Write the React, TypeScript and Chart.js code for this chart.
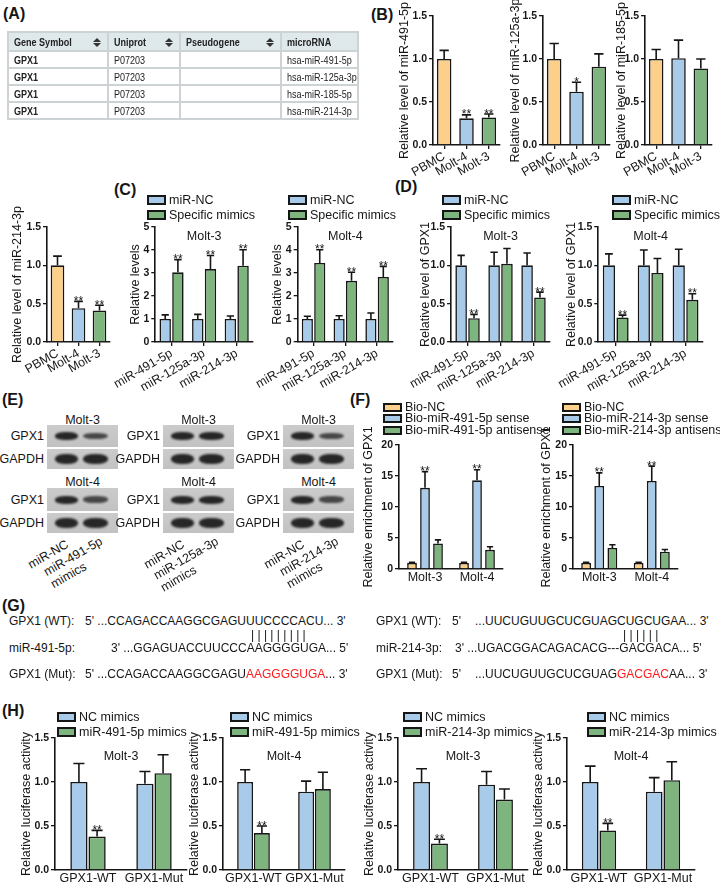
import React, { useEffect, useRef } from "react";
import { Chart, registerables } from "chart.js";
Chart.register(...registerables);

const FONT = "'Liberation Sans', Arial, sans-serif";
const ORANGE = "#FCD08B";
const BLUE = "#A9CBEA";
const GREEN = "#7EB47D";
const INK = "#161616";
Chart.defaults.color = INK;
Chart.defaults.font.family = FONT;

// ---------------- data ----------------
const tableHeaders = ["Gene Symbol", "Uniprot", "Pseudogene", "microRNA"];
const tableGene = ["GPX1", "GPX1", "GPX1", "GPX1"];
const tableUniprot = ["P07203", "P07203", "P07203", "P07203"];
const tableMirna = ["hsa-miR-491-5p", "hsa-miR-125a-3p", "hsa-miR-185-5p", "hsa-miR-214-3p"];

const bCats = ["PBMC", "Molt-4", "Molt-3"];
const b491Mean = [1.0, 0.31, 0.32];
const b491Sd = [0.1, 0.04, 0.04];
const b491Sig = ["", "**", "**"];
const b125aMean = [1.0, 0.62, 0.91];
const b125aSd = [0.18, 0.11, 0.15];
const b125aSig = ["", "*", ""];
const b185Mean = [1.0, 1.01, 0.89];
const b185Sd = [0.11, 0.21, 0.11];
const b185Sig = ["", "", ""];
const c214Mean = [1.0, 0.44, 0.41];
const c214Sd = [0.12, 0.09, 0.07];
const c214Sig = ["", "**", "**"];

const mirCats = ["miR-491-5p", "miR-125a-3p", "miR-214-3p"];
const cM3Nc = [1.0, 1.0, 1.0];
const cM3NcSd = [0.18, 0.2, 0.13];
const cM3Mim = [3.03, 3.17, 3.32];
const cM3MimSd = [0.55, 0.59, 0.69];
const cM4Nc = [1.0, 1.0, 1.0];
const cM4NcSd = [0.12, 0.14, 0.26];
const cM4Mim = [3.44, 2.66, 2.83];
const cM4MimSd = [0.57, 0.37, 0.46];
const cSig = ["**", "**", "**"];

const dM3Nc = [1.0, 1.0, 1.0];
const dM3NcSd = [0.13, 0.17, 0.16];
const dM3Mim = [0.31, 1.02, 0.58];
const dM3MimSd = [0.05, 0.2, 0.07];
const dM4Nc = [1.0, 1.0, 1.0];
const dM4NcSd = [0.15, 0.2, 0.21];
const dM4Mim = [0.32, 0.9, 0.55];
const dM4MimSd = [0.03, 0.19, 0.08];
const dSig = ["**", "", "**"];

const fCats = ["Molt-3", "Molt-4"];
const f491Nc = [1.0, 1.0];
const f491NcSd = [0.1, 0.1];
const f491Sense = [13.1, 14.3];
const f491SenseSd = [2.6, 1.7];
const f491Anti = [4.1, 3.1];
const f491AntiSd = [0.6, 0.5];
const f214Nc = [1.0, 1.0];
const f214NcSd = [0.1, 0.1];
const f214Sense = [13.4, 14.2];
const f214SenseSd = [2.1, 2.4];
const f214Anti = [3.4, 2.8];
const f214AntiSd = [0.5, 0.35];
const fSig = ["**", "**"];

const hCats = ["GPX1-WT", "GPX1-Mut"];
const h491M3Nc = [1.0, 0.98];
const h491M3NcSd = [0.21, 0.14];
const h491M3Mim = [0.38, 1.1];
const h491M3MimSd = [0.07, 0.21];
const h491M4Nc = [1.0, 0.89];
const h491M4NcSd = [0.14, 0.12];
const h491M4Mim = [0.42, 0.92];
const h491M4MimSd = [0.08, 0.19];
const h214M3Nc = [1.0, 0.97];
const h214M3NcSd = [0.15, 0.15];
const h214M3Mim = [0.3, 0.8];
const h214M3MimSd = [0.05, 0.12];
const h214M4Nc = [1.0, 0.89];
const h214M4NcSd = [0.18, 0.16];
const h214M4Mim = [0.45, 1.02];
const h214M4MimSd = [0.08, 0.21];
const hSig = ["**", ""];

const seq491Wt = "5' ...CCAGACCAAGGCGAGUUUCCCCACU... 3'";
const seq491Mir = "3' ...GGAGUACCUUCCCAAGGGGUGA... 5'";
const seq491MutA = "5' ...CCAGACCAAGGCGAGU";
const seq491MutB = "AAGGGGUGA";
const seq491MutC = "... 3'";
const seq214Wt = "...UUCUGUUGCUCGUAGCUGCUGAA... 3'";
const seq214Mir = "3' ...UGACGGACAGACACG---GACGACA... 5'";
const seq214MutA = "...UUCUGUUGCUCGUAG";
const seq214MutB = "GACGAC";
const seq214MutC = "AA... 3'";

const blotMirs = [["miR-491-5p", "mimics"], ["miR-125a-3p", "mimics"], ["miR-214-3p", "mimics"]];
const blotGpxStrength = [[1, 0.55], [1, 1], [1, 0.55]];

// ---------------- chart component ----------------
type DS = { label: string; data: number[]; sd: number[]; sig: string[]; color: string | string[] };
type Spec = {
  x0: number; x1: number; yTop: number; yBot: number; titleOff: number;
  labels: string[]; datasets: DS[]; yMax: number; yStep: number; dec: number;
  yTitle: string; title?: string; titleDy?: number; rot: number; xTicks: boolean;
  catPct: number; barPct: number; xH: number;
};

function BarChart({ spec }: { spec: Spec }) {
  const ref = useRef<HTMLCanvasElement>(null);
  const yW = spec.titleOff + 10;
  const left = spec.x0 - yW;
  const padT = 40;
  const top = spec.yTop - padT;
  const padR = 6;
  const w = Math.round(spec.x1 + padR - left);
  const h = Math.round(spec.yBot + spec.xH - top);
  useEffect(() => {
    const errPlugin = {
      id: "errbars",
      afterDatasetsDraw(chart: any) {
        const ctx = chart.ctx;
        const ys = chart.scales.y;
        const ca = chart.chartArea;
        spec.datasets.forEach((ds, i) => {
          const meta = chart.getDatasetMeta(i);
          meta.data.forEach((el: any, j: number) => {
            const v = ds.data[j];
            const e = ds.sd[j];
            const x = el.x;
            const bw = el.width;
            const yv = ys.getPixelForValue(v);
            const ye = ys.getPixelForValue(v + e);
            ctx.save();
            ctx.strokeStyle = INK;
            ctx.lineWidth = 1.6;
            ctx.beginPath();
            ctx.moveTo(x, yv);
            ctx.lineTo(x, ye);
            ctx.moveTo(x - bw * 0.32, ye);
            ctx.lineTo(x + bw * 0.32, ye);
            ctx.stroke();
            if (ds.sig[j]) {
              ctx.fillStyle = INK;
              ctx.font = `12px ${FONT}`;
              ctx.textAlign = "center";
              ctx.textBaseline = "alphabetic";
              ctx.fillText(ds.sig[j], x, ye + 3.5);
            }
            ctx.restore();
          });
        });
        ctx.save();
        ctx.fillStyle = INK;
        ctx.font = `12.5px ${FONT}`;
        ctx.textAlign = "center";
        ctx.textBaseline = "middle";
        if (spec.title) {
          ctx.fillText(spec.title, (ca.left + ca.right) / 2, ca.top + (spec.titleDy || 10));
        }
        ctx.translate(ca.left - spec.titleOff, (ca.top + ca.bottom) / 2);
        ctx.rotate(-Math.PI / 2);
        ctx.fillText(spec.yTitle, 0, 0);
        ctx.restore();
      },
    };
    const chart = new Chart(ref.current as HTMLCanvasElement, {
      type: "bar",
      data: {
        labels: spec.labels,
        datasets: spec.datasets.map((d) => ({
          label: d.label,
          data: d.data,
          backgroundColor: d.color as any,
          borderColor: INK,
          borderWidth: 1.6,
          barPercentage: spec.barPct,
          categoryPercentage: spec.catPct,
        })),
      },
      options: {
        responsive: false,
        maintainAspectRatio: false,
        animation: false,
        events: [],
        layout: { padding: { top: padT, right: padR, left: 0, bottom: 0 }, autoPadding: false } as any,
        plugins: { legend: { display: false }, tooltip: { enabled: false } },
        scales: {
          x: {
            type: "category",
            offset: true,
            z: 1,
            grid: { display: true, drawOnChartArea: false, drawTicks: spec.xTicks, tickLength: 4, color: INK, lineWidth: 1.3, offset: false },
            border: { display: true, color: INK, width: 1.6 },
            ticks: { color: INK, font: { family: FONT, size: 12.5 }, maxRotation: spec.rot, minRotation: spec.rot, autoSkip: false, padding: spec.rot ? 0 : 1 },
            afterFit: (s: any) => { s.height = spec.xH; },
          },
          y: {
            min: 0,
            max: spec.yMax,
            grid: { display: true, drawOnChartArea: false, drawTicks: true, tickLength: 4, color: INK, lineWidth: 1.3 },
            border: { display: true, color: INK, width: 1.6 },
            ticks: { stepSize: spec.yStep, color: INK, font: { family: FONT, size: 10.5, weight: "bold" }, padding: 2, callback: (v: any) => Number(v).toFixed(spec.dec) },
            title: { display: false },
            afterFit: (s: any) => { s.width = yW; },
          },
        },
      } as any,
      plugins: [errPlugin],
    });
    return () => chart.destroy();
  }, []);
  return <canvas ref={ref} width={w} height={h} style={{ position: "absolute", left, top, width: w, height: h }} />;
}

// ---------------- helpers ----------------
function T({ x, y, children, size = 12.5, bold = false, align = "left", color }: any) {
  const tx = align === "center" ? "-50%" : align === "right" ? "-100%" : "0";
  return (
    <div style={{ position: "absolute", left: x, top: y, transform: `translate(${tx}, -50%)`, fontSize: size, fontWeight: bold ? "bold" : "normal", whiteSpace: "nowrap", lineHeight: 1.15, color: color || INK }}>
      {children}
    </div>
  );
}

function Legend({ x, y, step, items, boxH = 6 }: any) {
  return (
    <>
      {items.map((it: any, i: number) => (
        <div key={i} style={{ position: "absolute", left: x, top: y + i * step - 7, height: 14, display: "flex", alignItems: "center", whiteSpace: "nowrap", fontSize: 12.5, lineHeight: 1 }}>
          <span style={{ display: "inline-block", width: 15, height: boxH, border: `2px solid ${INK}`, background: it.color, marginRight: 3 }} />
          {it.label}
        </div>
      ))}
    </>
  );
}

function RotLabel({ ax, ay, lines }: any) {
  return (
    <div style={{ position: "absolute", right: 720 - ax, top: ay, transform: "rotate(-30deg)", transformOrigin: "right top", fontSize: 12.5, lineHeight: 1.1, whiteSpace: "nowrap", textAlign: "left" }}>
      {lines.map((l: string, i: number) => <div key={i}>{l}</div>)}
    </div>
  );
}

function SortIcon() {
  return (
    <span style={{ position: "absolute", right: 6, top: 5, width: 8, height: 10 }}>
      <span style={{ position: "absolute", left: 0, top: 0, width: 0, height: 0, borderLeft: "4px solid transparent", borderRight: "4px solid transparent", borderBottom: "4px solid #333" }} />
      <span style={{ position: "absolute", left: 0, top: 5, width: 0, height: 0, borderLeft: "4px solid transparent", borderRight: "4px solid transparent", borderTop: "4px solid #333" }} />
    </span>
  );
}

function Sq({ children }: any) {
  return <span style={{ display: "inline-block", transform: "scaleX(0.86)", transformOrigin: "left center" }}>{children}</span>;
}

function Blot({ x, y, h, strengths, thick }: any) {
  const bands = [{ l: 8, w: 23 }, { l: 36, w: 25 }];
  return (
    <div style={{ position: "absolute", left: x, top: y, width: 71, height: h, background: "linear-gradient(#cbcbcb, #c2c2c2)" }}>
      {bands.map((b, i) => {
        const s = strengths[i];
        const bh = thick * (0.6 + 0.4 * s);
        return (
          <div key={i} style={{ position: "absolute", left: b.l, width: b.w, top: h / 2 - bh / 2, height: bh, background: "#262626", borderRadius: "45%", opacity: 0.55 + 0.45 * s, filter: "blur(0.9px)" }} />
        );
      })}
    </div>
  );
}

// ---------------- chart specs ----------------
const bSpec = (x0: number, x1: number, mean: number[], sd: number[], sig: string[], title: string, off: number): Spec => ({
  x0, x1, yTop: 16, yBot: 145, titleOff: off, labels: bCats,
  datasets: [{ label: "level", data: mean, sd, sig, color: [ORANGE, BLUE, GREEN] }],
  yMax: 1.5, yStep: 0.5, dec: 1, yTitle: title, rot: 30, xTicks: true, catPct: 0.65, barPct: 1, xH: 42,
});

const pairSpec = (x0: number, x1: number, yTop: number, yBot: number, labels: string[], a: number[], aSd: number[], b: number[], bSd: number[], sig: string[], yMax: number, yStep: number, dec: number, yTitle: string, title: string, off: number): Spec => ({
  x0, x1, yTop, yBot, titleOff: off, labels,
  datasets: [
    { label: "NC", data: a, sd: aSd, sig: labels.map(() => ""), color: BLUE },
    { label: "mimics", data: b, sd: bSd, sig, color: GREEN },
  ],
  yMax, yStep, dec, yTitle, title, titleDy: 10, rot: 30, xTicks: true, catPct: 0.78, barPct: 0.9, xH: 52,
});

const fSpec = (x0: number, x1: number, nc: number[], ncSd: number[], s: number[], sSd: number[], an: number[], anSd: number[], off: number): Spec => ({
  x0, x1, yTop: 445, yBot: 569, titleOff: off, labels: fCats,
  datasets: [
    { label: "Bio-NC", data: nc, sd: ncSd, sig: ["", ""], color: ORANGE },
    { label: "sense", data: s, sd: sSd, sig: fSig, color: BLUE },
    { label: "antisense", data: an, sd: anSd, sig: ["", ""], color: GREEN },
  ],
  yMax: 20, yStep: 5, dec: 0, yTitle: "Relative enrichment of GPX1", rot: 0, xTicks: false, catPct: 0.75, barPct: 0.75, xH: 18,
});

const hSpec = (x0: number, x1: number, nc: number[], ncSd: number[], m: number[], mSd: number[], title: string): Spec => ({
  x0, x1, yTop: 738, yBot: 870, titleOff: 28, labels: hCats,
  datasets: [
    { label: "NC", data: nc, sd: ncSd, sig: ["", ""], color: BLUE },
    { label: "mim", data: m, sd: mSd, sig: hSig, color: GREEN },
  ],
  yMax: 1.5, yStep: 0.5, dec: 1, yTitle: "Relative luciferase activity", title, titleDy: 19, rot: 0, xTicks: false, catPct: 0.55, barPct: 0.95, xH: 16,
});

const specs: Spec[] = [
  bSpec(433, 500, b491Mean, b491Sd, b491Sig, "Relative level of miR-491-5p", 28),
  bSpec(543, 610, b125aMean, b125aSd, b125aSig, "Relative level of miR-125a-3p", 27),
  bSpec(645, 712, b185Mean, b185Sd, b185Sig, "Relative level of miR-185-5p", 23),
  { ...bSpec(47, 110, c214Mean, c214Sd, c214Sig, "Relative level of miR-214-3p", 29), yTop: 227, yBot: 342 },
  pairSpec(140, 253, 227, 342, mirCats, cM3Nc, cM3NcSd, cM3Mim, cM3MimSd, cSig, 5, 1, 0, "Relative levels", "Molt-3", 20),
  pairSpec(282, 393, 227, 342, mirCats, cM4Nc, cM4NcSd, cM4Mim, cM4MimSd, cSig, 5, 1, 0, "Relative levels", "Molt-4", 20),
  pairSpec(441, 550, 227, 342, mirCats, dM3Nc, dM3NcSd, dM3Mim, dM3MimSd, dSig, 1.5, 0.5, 1, "Relative level of GPX1", "Molt-3", 26),
  pairSpec(590, 703, 227, 342, mirCats, dM4Nc, dM4NcSd, dM4Mim, dM4MimSd, dSig, 1.5, 0.5, 1, "Relative level of GPX1", "Molt-4", 27),
  fSpec(399, 503, f491Nc, f491NcSd, f491Sense, f491SenseSd, f491Anti, f491AntiSd, 30),
  fSpec(573, 678, f214Nc, f214NcSd, f214Sense, f214SenseSd, f214Anti, f214AntiSd, 26),
  hSpec(55, 187, h491M3Nc, h491M3NcSd, h491M3Mim, h491M3MimSd, "Molt-3"),
  hSpec(223, 345, h491M4Nc, h491M4NcSd, h491M4Mim, h491M4MimSd, "Molt-4"),
  hSpec(398, 528, h214M3Nc, h214M3NcSd, h214M3Mim, h214M3MimSd, "Molt-3"),
  hSpec(567, 695, h214M4Nc, h214M4NcSd, h214M4Mim, h214M4MimSd, "Molt-4"),
];

const ncMim = [{ label: "miR-NC", color: BLUE }, { label: "Specific mimics", color: GREEN }];
const bio491 = [{ label: "Bio-NC", color: ORANGE }, { label: "Bio-miR-491-5p sense", color: BLUE }, { label: "Bio-miR-491-5p antisense", color: GREEN }];
const bio214 = [{ label: "Bio-NC", color: ORANGE }, { label: "Bio-miR-214-3p sense", color: BLUE }, { label: "Bio-miR-214-3p antisense", color: GREEN }];
const h491 = [{ label: "NC mimics", color: BLUE }, { label: "miR-491-5p mimics", color: GREEN }];
const h214 = [{ label: "NC mimics", color: BLUE }, { label: "miR-214-3p mimics", color: GREEN }];

const blotX = [47, 163, 283];

export default function App() {
  const colW = [100, 72, 101, 77];
  const cell = { border: "2px solid #cdd2d4", padding: "0 3px 0 5px", textAlign: "left" as const, height: 15, position: "relative" as const, whiteSpace: "nowrap" as const, overflow: "hidden" };
  return (
    <div style={{ position: "absolute", left: 0, top: 0, width: 720, height: 884, background: "#fff", overflow: "hidden", fontFamily: FONT, color: INK }}>
      {/* panel letters */}
      <T x={3} y={14} size={16} bold>(A)</T>
      <T x={371} y={15} size={16} bold>(B)</T>
      <T x={114} y={190} size={16} bold>(C)</T>
      <T x={395} y={187} size={16} bold>(D)</T>
      <T x={2} y={400} size={16} bold>(E)</T>
      <T x={350} y={400} size={16} bold>(F)</T>
      <T x={2} y={606} size={16} bold>(G)</T>
      <T x={2} y={711} size={16} bold>(H)</T>

      {/* table A */}
      <table style={{ position: "absolute", left: 7, top: 31, width: 350, borderCollapse: "collapse", fontSize: 10.5, color: "#222", tableLayout: "fixed" }}>
        <colgroup>{colW.map((w, i) => <col key={i} style={{ width: w }} />)}</colgroup>
        <thead>
          <tr style={{ background: "#dfe8eb" }}>
            {tableHeaders.map((hd, i) => (
              <th key={i} style={{ ...cell, height: 17, fontWeight: "bold" }}><Sq>{hd}</Sq>{i < 3 ? <SortIcon /> : null}</th>
            ))}
          </tr>
        </thead>
        <tbody>
          {tableGene.map((g, i) => (
            <tr key={i}>
              <td style={{ ...cell, fontWeight: "bold" }}><Sq>{g}</Sq></td>
              <td style={cell}><Sq>{tableUniprot[i]}</Sq></td>
              <td style={cell}></td>
              <td style={cell}><Sq>{tableMirna[i]}</Sq></td>
            </tr>
          ))}
        </tbody>
      </table>

      {/* charts */}
      {specs.map((s, i) => <BarChart key={i} spec={s} />)}

      {/* legends */}
      <Legend x={147} y={200} step={15} items={ncMim} />
      <Legend x={288} y={200} step={15} items={ncMim} />
      <Legend x={442} y={200} step={15} items={ncMim} />
      <Legend x={612} y={200} step={15} items={ncMim} />
      <Legend x={383} y={407} step={11.5} items={bio491} boxH={5} />
      <Legend x={562} y={407} step={11.5} items={bio214} boxH={5} />
      <Legend x={57} y={717} step={15} items={h491} />
      <Legend x={230} y={717} step={15} items={h491} />
      <Legend x={403} y={717} step={15} items={h214} />
      <Legend x={587} y={717} step={15} items={h214} />

      {/* blots E */}
      {blotX.map((bx, k) => (
        <React.Fragment key={k}>
          <T x={bx + 35.5} y={420} align="center">Molt-3</T>
          <Blot x={bx} y={425} h={22} strengths={blotGpxStrength[k]} thick={8} />
          <Blot x={bx} y={449} h={20} strengths={[1, 1]} thick={10} />
          <T x={bx - 3} y={436} align="right">GPX1</T>
          <T x={bx - 3} y={459} align="right">GAPDH</T>
          <T x={bx + 35.5} y={482} align="center">Molt-4</T>
          <Blot x={bx} y={488} h={23} strengths={blotGpxStrength[k]} thick={8} />
          <Blot x={bx} y={513} h={20} strengths={[1, 1]} thick={10} />
          <T x={bx - 3} y={499.5} align="right">GPX1</T>
          <T x={bx - 3} y={523} align="right">GAPDH</T>
          <RotLabel ax={bx + 17} ay={538} lines={["miR-NC"]} />
          <RotLabel ax={bx + 51} ay={535} lines={blotMirs[k]} />
        </React.Fragment>
      ))}

      {/* sequences G */}
      <T x={9} y={622} size={12}>GPX1 (WT):</T>
      <T x={85} y={622} size={12}>{seq491Wt}</T>
      <T x={251} y={636} size={12}>{"| | | | | | | | |"}</T>
      <T x={9} y={649} size={12}>miR-491-5p:</T>
      <T x={111} y={649} size={12}>{seq491Mir}</T>
      <T x={9} y={675} size={12}>GPX1 (Mut):</T>
      <T x={85} y={675} size={12}>{seq491MutA}<span style={{ color: "#ff1a1a" }}>{seq491MutB}</span>{seq491MutC}</T>

      <T x={376} y={622} size={12}>GPX1 (WT):</T>
      <T x={452} y={622} size={12}>5'</T>
      <T x={475} y={622} size={12}>{seq214Wt}</T>
      <T x={623} y={636} size={12}>{"| | | | | |"}</T>
      <T x={376} y={649} size={12}>miR-214-3p:</T>
      <T x={455} y={649} size={12}>{seq214Mir}</T>
      <T x={376} y={675} size={12}>GPX1 (Mut):</T>
      <T x={452} y={675} size={12}>5'</T>
      <T x={475} y={675} size={12}>{seq214MutA}<span style={{ color: "#ff1a1a" }}>{seq214MutB}</span>{seq214MutC}</T>
    </div>
  );
}
